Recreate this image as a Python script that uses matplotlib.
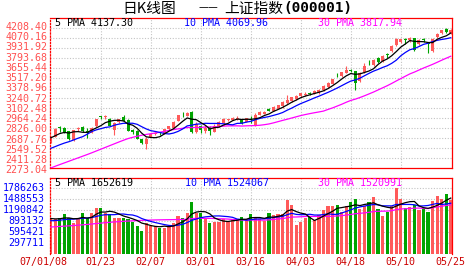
import matplotlib
matplotlib.use("Agg")
import matplotlib.pyplot as plt
import numpy as np

# ------------------------------------------------------------------
# 日K线图 上证指数 2007-01-08 .. 2007-05-25 (Werte aus dem Bild gelesen)
# ------------------------------------------------------------------

date_labels = ["07/01/08", "01/23", "02/07", "03/01", "03/16", "04/03", "04/18", "05/10", "05/25"]
date_pos = [0, 11, 22, 33, 44, 55, 66, 77, 88]

opens = [2630, 2707, 2840, 2830, 2785, 2655, 2815, 2845, 2790, 2760,
         2850, 2985, 2980, 2950, 2800, 2904, 2973, 2937, 2800, 2790,
         2670, 2600, 2706, 2745, 2758, 2752, 2808, 2821, 2927, 3025,
         2990, 3045, 2775, 2854, 2790, 2840, 2775, 2854, 2900, 2930,
         2937, 2946, 2937, 2914, 2950, 2865, 3010, 3025, 3095, 3066,
         3090, 3125, 3170, 3195, 3225, 3262, 3280, 3310, 3298, 3310,
         3345, 3390, 3440, 3565, 3545, 3590, 3625, 3614, 3470, 3600,
         3745, 3700, 3800, 3750, 3845, 3890, 3975, 4020, 4050, 4040,
         4066, 3990, 4055, 4000, 3890, 4085, 4135, 4200, 4140]
closes = [2707, 2808, 2826, 2770, 2668, 2795, 2821, 2779, 2760, 2832,
          2945, 2975, 2990, 2857, 2895, 2945, 2927, 2786, 2770, 2680,
          2612, 2670, 2745, 2752, 2750, 2808, 2854, 2914, 3000, 3015,
          3040, 2771, 2881, 2797, 2831, 2785, 2860, 2914, 2946, 2946,
          2969, 2969, 2891, 2960, 2940, 3005, 3045, 3045, 3066, 3115,
          3140, 3190, 3213, 3250, 3268, 3305, 3300, 3300, 3342, 3351,
          3407, 3453, 3503, 3555, 3596, 3628, 3612, 3449, 3584, 3690,
          3735, 3766, 3745, 3820, 3835, 3960, 4050, 4056, 4040, 4070,
          3900, 4040, 4045, 3985, 4060, 4130, 4175, 4150, 4181]
highs = [2712, 2820, 2858, 2840, 2790, 2800, 2845, 2850, 2830, 2840,
         2950, 2997, 3012, 2960, 2910, 2955, 3006, 2950, 2815, 2800,
         2680, 2706, 2752, 2770, 2775, 2815, 2860, 2920, 3006, 3052,
         3049, 3062, 2905, 2870, 2867, 2850, 2885, 2920, 2960, 2955,
         2975, 2985, 2945, 2970, 2990, 3030, 3060, 3055, 3105, 3125,
         3145, 3200, 3282, 3260, 3280, 3315, 3320, 3325, 3350, 3360,
         3415, 3460, 3510, 3590, 3605, 3680, 3640, 3620, 3600, 3720,
         3766, 3775, 3812, 3830, 3860, 3975, 4075, 4060, 4075, 4080,
         4075, 4055, 4070, 4010, 4070, 4140, 4185, 4208.40, 4195]
lows = [2615, 2700, 2775, 2750, 2660, 2650, 2790, 2770, 2690, 2750,
        2845, 2946, 2945, 2850, 2730, 2900, 2920, 2780, 2740, 2670,
        2600, 2531, 2700, 2725, 2735, 2745, 2800, 2815, 2920, 2982,
        2985, 2761, 2760, 2752, 2752, 2730, 2765, 2845, 2867, 2920,
        2930, 2940, 2880, 2905, 2890, 2850, 3000, 3015, 3055, 3060,
        3085, 3100, 3160, 3185, 3215, 3255, 3270, 3280, 3290, 3300,
        3340, 3385, 3430, 3530, 3535, 3580, 3595, 3351, 3455, 3590,
        3697, 3690, 3730, 3740, 3800, 3880, 3965, 4000, 3982, 4020,
        3890, 3980, 4020, 3860, 3880, 4075, 4120, 4135, 4125]

ma5 = [2690, 2720, 2750, 2765, 2756, 2773, 2776, 2767, 2765, 2797,
       2827, 2858, 2900, 2920, 2932, 2932, 2923, 2882, 2865, 2822,
       2755, 2704, 2695, 2692, 2706, 2745, 2782, 2816, 2865, 2918,
       2965, 2948, 2941, 2901, 2864, 2813, 2831, 2837, 2867, 2890,
       2927, 2949, 2944, 2947, 2946, 2953, 2968, 2999, 3020, 3055,
       3082, 3111, 3145, 3182, 3212, 3245, 3267, 3285, 3303, 3320,
       3340, 3371, 3411, 3454, 3503, 3547, 3579, 3568, 3574, 3593,
       3614, 3645, 3704, 3751, 3780, 3825, 3882, 3944, 3988, 4035,
       4023, 4021, 4019, 4008, 4006, 4052, 4079, 4100, 4139]
ma10 = [2545, 2570, 2595, 2618, 2637, 2660, 2685, 2706, 2740, 2777,
        2800, 2817, 2834, 2842, 2865, 2880, 2891, 2891, 2892, 2877,
        2844, 2813, 2789, 2778, 2764, 2750, 2743, 2756, 2779, 2812,
        2855, 2865, 2879, 2883, 2891, 2889, 2889, 2889, 2884, 2877,
        2870, 2890, 2891, 2907, 2918, 2940, 2959, 2972, 2984, 3001,
        3018, 3040, 3072, 3101, 3134, 3164, 3189, 3215, 3242, 3266,
        3293, 3319, 3348, 3378, 3411, 3444, 3475, 3490, 3514, 3548,
        3581, 3612, 3636, 3663, 3686, 3720, 3763, 3824, 3870, 3908,
        3924, 3952, 3982, 3998, 4021, 4038, 4050, 4060, 4074]
ma30 = [2273, 2298, 2321, 2344, 2367, 2390, 2413, 2436, 2459, 2483,
        2508, 2533, 2558, 2583, 2608, 2633, 2657, 2680, 2697, 2712,
        2726, 2737, 2747, 2757, 2768, 2780, 2792, 2804, 2814, 2822,
        2833, 2832, 2834, 2834, 2840, 2840, 2841, 2845, 2852, 2855,
        2856, 2856, 2853, 2856, 2858, 2860, 2864, 2872, 2882, 2897,
        2914, 2931, 2947, 2964, 2981, 2998, 3012, 3025, 3037, 3048,
        3060, 3083, 3104, 3129, 3154, 3182, 3207, 3225, 3247, 3271,
        3297, 3323, 3352, 3381, 3410, 3442, 3476, 3509, 3542, 3574,
        3599, 3627, 3655, 3680, 3706, 3734, 3763, 3791, 3818]

# Volumen in Tausend
vol_k = [938, 938, 965, 1074, 965, 830, 965, 1119, 965, 1100,
         1236, 1254, 1119, 1074, 983, 983, 983, 938, 875, 758,
         631, 830, 758, 758, 713, 713, 758, 848, 1038, 983,
         1119, 1417, 1119, 1119, 938, 830, 875, 875, 938, 875,
         938, 938, 1010, 938, 1083, 965, 938, 902, 1119, 1056,
         1083, 1083, 1462, 1326, 785, 875, 965, 992, 920, 1056,
         1191, 1308, 1308, 1326, 1146, 1308, 1398, 1480, 1218, 1299,
         1398, 1533, 1209, 1038, 1146, 1299, 1786, 1480, 1236, 1281,
         1326, 1191, 1236, 1146, 1440, 1565, 1500, 1615, 1450]
vma5_k = [960, 950, 955, 975, 976, 954, 960, 991, 969, 996,
          1077, 1135, 1135, 1157, 1133, 1083, 1028, 992, 952, 907,
          837, 806, 770, 747, 738, 754, 740, 758, 814, 868,
          949, 1081, 1135, 1151, 1142, 1085, 976, 927, 891, 879,
          900, 913, 940, 940, 981, 987, 987, 965, 1001, 996,
          1020, 1049, 1161, 1202, 1148, 1106, 1083, 989, 907, 962,
          1025, 1093, 1157, 1238, 1256, 1279, 1297, 1332, 1310, 1341,
          1359, 1386, 1331, 1295, 1265, 1245, 1296, 1350, 1389, 1416,
          1422, 1303, 1254, 1236, 1268, 1316, 1377, 1453, 1514]
vma10_k = [900, 905, 915, 930, 940, 945, 955, 965, 975, 986,
           1016, 1047, 1063, 1063, 1065, 1080, 1082, 1064, 1055, 1020,
           960, 917, 881, 850, 823, 796, 773, 764, 781, 803,
           852, 911, 947, 983, 1005, 1017, 1029, 1031, 1021, 1011,
           992, 945, 934, 916, 930, 944, 950, 953, 971, 989,
           1003, 1018, 1063, 1102, 1072, 1063, 1066, 1075, 1055, 1055,
           1066, 1088, 1073, 1073, 1109, 1152, 1195, 1244, 1274, 1298,
           1319, 1341, 1332, 1303, 1303, 1302, 1341, 1341, 1342, 1341,
           1333, 1299, 1302, 1313, 1342, 1369, 1340, 1354, 1375]
vma30_k = [730, 738, 746, 754, 762, 770, 780, 790, 800, 812,
           824, 836, 848, 858, 868, 876, 884, 892, 898, 904,
           910, 915, 919, 922, 925, 927, 929, 931, 933, 936,
           942, 958, 964, 965, 964, 964, 961, 953, 952, 945,
           935, 924, 921, 916, 919, 919, 917, 916, 924, 934,
           949, 958, 981, 1000, 1002, 1008, 1015, 1019, 1016, 1018,
           1020, 1017, 1023, 1030, 1037, 1053, 1070, 1090, 1100, 1114,
           1129, 1149, 1156, 1159, 1161, 1172, 1201, 1220, 1224, 1231,
           1239, 1243, 1235, 1229, 1251, 1274, 1292, 1313, 1330]

price_labels = ["4208.40", "4070.16", "3931.92", "3793.68", "3655.44", "3517.20", "3378.96", "3240.72",
                "3102.48", "2964.24", "2826.00", "2687.76", "2549.52", "2411.28", "2273.04"]
vol_labels = ["1786263", "1488553", "1190842", "893132", "595421", "297711"]

# ------------------------------------------------------------------
RED = "#ff5a5a"
GREEN = "#00a400"
BORDER = "#ff0000"
GRID = "#c4c4c4"
MONO = "DejaVu Sans Mono"
CJK = ["Noto Sans CJK SC", "DejaVu Sans"]

W, H = 472, 273
fig = plt.figure(figsize=(W / 100, H / 100), dpi=100)


def box(top, bottom):
    return [50 / W, 1 - bottom / H, 402 / W, (bottom - top) / H]


def put(xpx, ypx, s, **kw):
    fig.text(xpx / W, 1 - ypx / H, s, **kw)


ax = fig.add_axes(box(18, 168))
axv = fig.add_axes(box(178, 254))

x = np.arange(len(closes))
o = np.array(opens, dtype=float)
c = np.array(closes, dtype=float)
up = c >= o
cols = np.where(up, RED, GREEN)

# Kerzen
ax.vlines(x, lows, highs, colors=cols, lw=0.8, zorder=2)
ax.bar(x, np.maximum(np.abs(c - o), 10), bottom=np.minimum(o, c), width=0.66,
       color=cols, linewidth=0, zorder=2)
ax.plot(x, ma30, color="#ff00ff", lw=0.9, zorder=3)
ax.plot(x, ma10, color="#0000ff", lw=0.9, zorder=3)
ax.plot(x, ma5, color="black", lw=0.9, zorder=4)

# Volumen
axv.bar(x, vol_k, width=0.7, color=cols, linewidth=0, zorder=2)
axv.plot(x, vma30_k, color="#ff00ff", lw=0.9, zorder=3)
axv.plot(x, vma10_k, color="#0000ff", lw=0.9, zorder=3)
axv.plot(x, vma5_k, color="black", lw=0.9, zorder=4)

ax.set_ylim(2273.04, 4346.64)
axv.set_ylim(0, 297.7105 * 76 / 11)

for a in (ax, axv):
    a.set_xlim(-0.18, 88.27)
    a.set_xticks([])
    a.set_yticks([])
    for i in date_pos[1:-1]:
        a.axvline(i, color=GRID, lw=0.8, ls=(0, (1, 1.5)), zorder=0)
    for s in ("top", "right", "bottom"):
        a.spines[s].set_color(BORDER)
        a.spines[s].set_linewidth(0.9)
    a.spines["left"].set_color(BORDER)
    a.spines["left"].set_linewidth(0.9)
    a.spines["left"].set_linestyle((0, (1, 1.5)))
axv.spines["bottom"].set_visible(False)

for lbl in price_labels[:-1]:
    ax.axhline(float(lbl), color=GRID, lw=0.8, ls=(0, (1, 1.5)), zorder=0)
for lbl in vol_labels:
    axv.axhline(float(lbl) / 1000, color=GRID, lw=0.8, ls=(0, (1, 1.5)), zorder=0)

# Achsenbeschriftung
for k, lbl in enumerate(price_labels):
    put(47.7, 27 + 10.24 * k, lbl, ha="right", va="center", color="#ff5050",
        family=MONO, fontsize=7.2)
for k, lbl in enumerate(vol_labels):
    put(44.3, 188.3 + 11 * k, lbl, ha="right", va="center", color="#0000ff",
        family=MONO, fontsize=7.2)
for k, (p, lbl) in enumerate(zip(date_pos, date_labels)):
    axv.annotate(lbl, xy=(p, H - 261.5), xycoords=("data", "figure pixels"),
                 xytext=(-7.5 if k == 0 else 0, 0), textcoords="offset pixels",
                 ha="center", va="center", color="#cc0000", family=MONO, fontsize=7.2,
                 annotation_clip=False)

# Legenden
put(55, 23.5, "5 PMA 4137.30", color="black", va="center", family=MONO, fontsize=7.2)
put(183.5, 23.5, "10 PMA 4069.96", color="#0000ff", va="center", family=MONO, fontsize=7.2)
put(318.5, 23.5, "30 PMA 3817.94", color="#ff00ff", va="center", family=MONO, fontsize=7.2)
put(55, 183.5, "5 PMA 1652619", color="black", va="center", family=MONO, fontsize=7.2)
put(185, 183.5, "10 PMA 1524067", color="#0000ff", va="center", family=MONO, fontsize=7.2)
put(318.5, 183.5, "30 PMA 1520991", color="#ff00ff", va="center", family=MONO, fontsize=7.2)

# Titel (in Stuecken, damit die Abstaende wie im Original sind)
put(122, 8.5, "日K线图", ha="left", va="center", family=CJK, fontsize=10.6)
put(208.5, 8.5, "——", ha="center", va="center", family=CJK, fontsize=8)
put(224, 8.5, "上证指数", ha="left", va="center", family=CJK, fontsize=10.6)
put(283, 8.5, "(000001)", ha="left", va="center", family=MONO, fontsize=10.4,
    fontweight="bold")

fig.savefig("out.png", dpi=100)
